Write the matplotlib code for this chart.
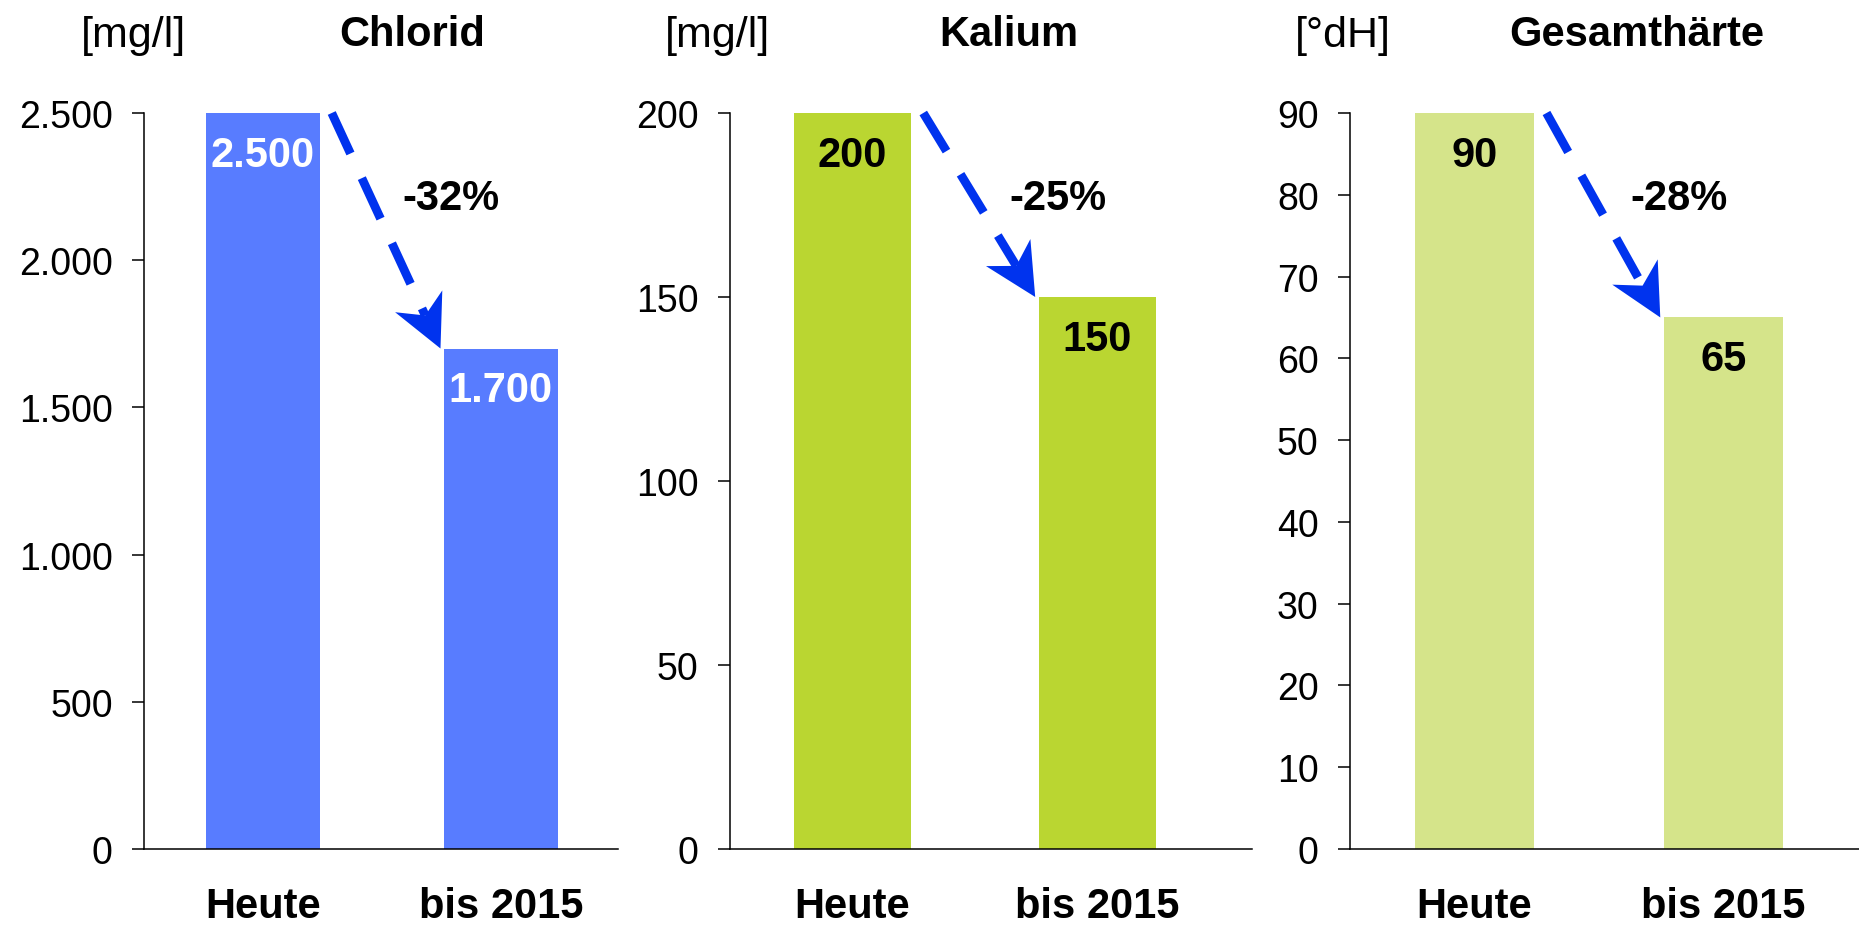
import matplotlib.pyplot as plt
import numpy as np
from matplotlib.patches import Polygon
from matplotlib.transforms import IdentityTransform

plt.rcParams["font.family"] = ["Liberation Sans", "DejaVu Sans"]

periods = ["Heute", "bis 2015"]

titles = ["Chlorid", "Kalium", "Gesamthärte"]
units = ["[mg/l]", "[mg/l]", "[°dH]"]
chlorid = [2500, 1700]
kalium = [200, 150]
gesamthaerte = [90, 65]
series = [chlorid, kalium, gesamthaerte]
y_max = [2500, 200, 90]
y_step = [500, 50, 10]

bar_colors = ["#587cff", "#bad631", "#d5e48a"]
value_colors = ["white", "black", "black"]
arrow_color = "#0033ee"

# layout in pixels of a 1859 x 929 canvas
FIG_W, FIG_H = 1859, 929
AXIS_TOP, AXIS_BOTTOM = 114, 850
panel_px = [(144, 618), (730, 1252), (1350, 1859)]
panel_xmax = [1.492, 1.631, 1.544]
title_x = [412, 1009, 1637]
unit_x = [133, 718, 1343]
change_x = [0.79, 0.84, 0.82]
BAR_WIDTH = 0.478


def fmt(value):
    return f"{value:,.0f}".replace(",", ".")


def draw_trend(ax, x0, y0, x1, y1):
    start = ax.transData.transform((x0, y0))
    tip = ax.transData.transform((x1, y1))
    direction = (tip - start) / np.hypot(*(tip - start))
    normal = np.array([-direction[1], direction[0]])
    head_len, half_w = 52, 26
    base = tip - head_len * direction
    notch = tip - 0.7 * head_len * direction
    end = ax.transData.inverted().transform(notch)
    ax.plot([x0, end[0]], [y0, end[1]], color=arrow_color, lw=6.3,
            linestyle=(0, (5.1, 3.1)), dash_capstyle="butt", clip_on=False)
    head = [tip, base + half_w * normal, notch, base - half_w * normal]
    ax.add_patch(Polygon(head, closed=True, facecolor=arrow_color,
                         edgecolor="none", transform=IdentityTransform(),
                         clip_on=False, zorder=5))


fig = plt.figure(figsize=(FIG_W / 100, FIG_H / 100), dpi=100)

for i, values in enumerate(series):
    left, right = panel_px[i]
    ax = fig.add_axes([left / FIG_W, 1 - AXIS_BOTTOM / FIG_H,
                       (right - left) / FIG_W, (AXIS_BOTTOM - AXIS_TOP) / FIG_H])
    x = np.arange(len(values))
    ax.bar(x, values, width=BAR_WIDTH, color=bar_colors[i], zorder=2)
    ax.set_xlim(-0.5, panel_xmax[i])
    ax.set_ylim(0, y_max[i])

    ticks = np.arange(0, y_max[i] + y_step[i], y_step[i])
    ax.set_yticks(ticks, [fmt(t) for t in ticks])
    ax.set_xticks(x, periods)
    ax.tick_params(axis="y", length=8.5, width=1.1, pad=14, labelsize=27)
    ax.tick_params(axis="x", length=0, pad=27, labelsize=30)
    for label in ax.get_xticklabels():
        label.set_fontweight("bold")

    for side in ("top", "right"):
        ax.spines[side].set_visible(False)
    for side in ("left", "bottom"):
        ax.spines[side].set_linewidth(1.1)

    for xi, v in zip(x, values):
        ax.annotate(fmt(v), (xi, v), xytext=(0, -30), textcoords="offset points",
                    ha="center", va="center", fontsize=30, fontweight="bold",
                    color=value_colors[i])

    change = round((values[1] - values[0]) / values[0] * 100)
    ax.text(change_x[i], 0.8845, f"{change}%", transform=ax.get_xaxis_transform(),
            ha="center", va="center", fontsize=30, fontweight="bold")

    draw_trend(ax, BAR_WIDTH / 2 + 0.05, values[0], 1 - BAR_WIDTH / 2 - 0.015, values[1])

    fig.text(title_x[i] / FIG_W, 1 - 46 / FIG_H, titles[i], ha="center",
             va="baseline", fontsize=30, fontweight="bold")
    fig.text(unit_x[i] / FIG_W, 1 - 47 / FIG_H, units[i], ha="center",
             va="baseline", fontsize=31)

fig.savefig("out.png", dpi=100)
